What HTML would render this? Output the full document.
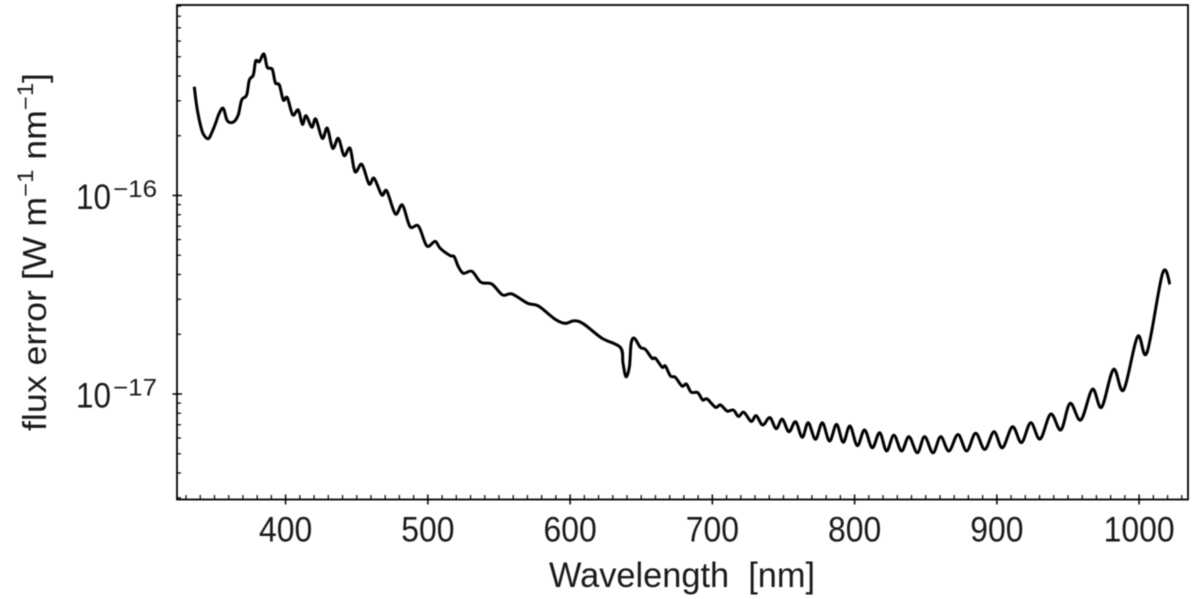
<!DOCTYPE html>
<html lang="en">
<head>
<meta charset="utf-8">
<title>Flux error vs wavelength</title>
<style>
html,body{margin:0;padding:0;background:#fff;}
svg{display:block;filter:blur(0.45px);}
text{font-family:"Liberation Sans",sans-serif;fill:#1a1a1a;}
</style>
</head>
<body>
<svg id="chart" xmlns="http://www.w3.org/2000/svg" width="1200" height="599" viewBox="0 0 1200 599">
  <rect x="0" y="0" width="1200" height="599" fill="#fff"/>
  <g id="ticks"></g>
  <path id="series" fill="none" stroke="#000" stroke-width="3" stroke-linejoin="round" stroke-linecap="butt"/>
  <rect x="177" y="5" width="1011" height="494.5" fill="none" stroke="#000" stroke-width="1.8"/>
  <g id="labels"></g>
  <text x="549" y="587" font-size="35" textLength="266" lengthAdjust="spacingAndGlyphs" xml:space="preserve">Wavelength  [nm]</text>
  <text transform="translate(46,431) rotate(-90)" font-size="33" textLength="358" lengthAdjust="spacingAndGlyphs">flux error [W m<tspan font-size="22" dy="-13">−1</tspan><tspan dy="13"> nm</tspan><tspan font-size="22" dy="-13">−1</tspan><tspan dy="13">]</tspan></text>
</svg>
<script>
var wavelengths = [335.8,337.4,339.8,342.1,345.6,348.0,350.8,353.3,356.2,359.0,363.2,366.7,369.1,372.6,374.5,377.3,379.0,381.5,384.8,387.1,390.6,392.8,395.6,398.4,401.2,405.0,408.9,411.8,414.4,418.4,421.2,425.8,429.3,433.1,437.1,441.1,445.3,448.8,453.6,458.7,462.2,467.6,471.1,477.2,482.1,487.5,493.4,499.3,505.1,508.7,515.7,518.5,521.5,525.0,531.0,537.3,545.0,552.5,559.1,570.1,577.8,589.6,596.6,603.0,609.5,622.4,635.3,637.2,639.3,641.7,642.9,645.2,649.4,652.9,657.6,660.0,664.7,667.0,670.5,674.0,678.7,681.8,685.1,689.7,693.2,696.3,702.2,705.7,710.4,714.8,718.4,722.1,727.3,730.8,735.4,740.4,744.9,749.1,753.8,758.5,763.2,767.4,772.5,777.3,782.4,787.3,792.0,796.7,801.9,807.0,812.4,817.6,822.5,827.6,833.0,838.2,844.1,849.2,855.1,860.5,866.3,872.7,878.8,885.1,891.5,898.0,903.9,911.0,917.3,923.8,930.4,937.9,945.0,951.5,959.0,967.2,973.6,982.0,989.1,998.9,1005.5,1016.5,1021.7];
var log10FluxError = [-15.452,-15.544,-15.635,-15.690,-15.714,-15.685,-15.636,-15.586,-15.561,-15.623,-15.630,-15.594,-15.519,-15.494,-15.418,-15.393,-15.322,-15.326,-15.287,-15.354,-15.364,-15.432,-15.443,-15.519,-15.507,-15.594,-15.569,-15.641,-15.598,-15.656,-15.615,-15.712,-15.661,-15.762,-15.712,-15.799,-15.762,-15.880,-15.843,-15.942,-15.913,-15.997,-15.977,-16.093,-16.048,-16.157,-16.154,-16.254,-16.231,-16.266,-16.303,-16.308,-16.359,-16.392,-16.382,-16.437,-16.446,-16.501,-16.496,-16.543,-16.557,-16.624,-16.644,-16.631,-16.647,-16.719,-16.765,-16.845,-16.913,-16.862,-16.745,-16.719,-16.765,-16.775,-16.820,-16.820,-16.865,-16.859,-16.909,-16.916,-16.960,-16.950,-16.991,-16.993,-17.030,-17.025,-17.067,-17.055,-17.086,-17.081,-17.113,-17.092,-17.138,-17.109,-17.156,-17.119,-17.175,-17.127,-17.190,-17.140,-17.218,-17.145,-17.228,-17.145,-17.237,-17.153,-17.243,-17.161,-17.260,-17.181,-17.271,-17.195,-17.287,-17.207,-17.287,-17.215,-17.296,-17.215,-17.296,-17.215,-17.287,-17.204,-17.287,-17.198,-17.279,-17.190,-17.271,-17.165,-17.245,-17.145,-17.227,-17.101,-17.181,-17.047,-17.131,-16.976,-17.067,-16.876,-16.980,-16.711,-16.792,-16.392,-16.447];
var xTickValues = [400,500,600,700,800,900,1000];
var xTickLabels = ["400","500","600","700","800","900","1000"];
var yTickExponents = [-16,-17];
var yTickLabels = ["−16","−17"];

var SVGNS = "http://www.w3.org/2000/svg";
function xScale(w){ return 285.6 + (w - 400) * 1.4225; }
function yScale(l){ return 394 - (l + 17) * 198.5; }

var ticksGroup = document.getElementById("ticks");
var labelsGroup = document.getElementById("labels");

function addTick(x1,y1,x2,y2,width,name){
  var t = document.createElementNS(SVGNS,"line");
  t.setAttribute("x1",x1); t.setAttribute("y1",y1);
  t.setAttribute("x2",x2); t.setAttribute("y2",y2);
  t.setAttribute("stroke","#000"); t.setAttribute("stroke-width",width);
  
  
  ticksGroup.appendChild(t);
}

var w, d, m;
for (w = 330; w <= 1030; w += 10) {
  if (w % 100 === 0) { addTick(xScale(w),494.5,xScale(w),504.5,1.5,"x-major-tick"); }
  else { addTick(xScale(w),495,xScale(w),499,1.2,"x-minor-tick"); }
}
for (d = -18; d <= -15; d++) {
  for (m = 1; m < 10; m++) {
    var ly = d + Math.log10(m);
    var py = yScale(ly);
    if (py < 6 || py > 498) continue;
    if (m === 1) { addTick(172.5,py,182,py,1.5,"y-major-tick"); }
    else { addTick(177,py,181,py,1.2,"y-minor-tick"); }
  }
}

xTickValues.forEach(function(v,i){
  var lab = document.createElementNS(SVGNS,"text");
  lab.setAttribute("x",xScale(v));
  lab.setAttribute("y",541.5);
  lab.setAttribute("font-size",35);
  lab.setAttribute("text-anchor","middle");
  lab.setAttribute("textLength",xTickLabels[i].length*17.75);
  lab.setAttribute("lengthAdjust","spacingAndGlyphs");
  
  
  lab.textContent = xTickLabels[i];
  labelsGroup.appendChild(lab);
});

yTickExponents.forEach(function(e,i){
  var by = yScale(e) + 13.5;
  var base = document.createElementNS(SVGNS,"text");
  base.setAttribute("x",76);
  base.setAttribute("y",by);
  base.setAttribute("font-size",35);
  base.setAttribute("textLength",35);
  base.setAttribute("lengthAdjust","spacingAndGlyphs");
  
  
  base.textContent = "10";
  labelsGroup.appendChild(base);
  var exp = document.createElementNS(SVGNS,"text");
  exp.setAttribute("x",113);
  exp.setAttribute("y",by - 12);
  exp.setAttribute("font-size",24);
  exp.setAttribute("textLength",44);
  exp.setAttribute("lengthAdjust","spacingAndGlyphs");
  
  
  exp.textContent = yTickLabels[i];
  labelsGroup.appendChild(exp);
});

function linePath(){
  var pts = wavelengths.map(function(v,i){ return [xScale(v), yScale(log10FluxError[i])]; });
  var s = "M" + pts[0][0].toFixed(2) + " " + pts[0][1].toFixed(2);
  for (var i = 0; i < pts.length - 1; i++) {
    var p0 = pts[Math.max(i-1,0)], p1 = pts[i], p2 = pts[i+1], p3 = pts[Math.min(i+2,pts.length-1)];
    var c1x = p1[0] + (p2[0]-p0[0])/6, c1y = p1[1] + (p2[1]-p0[1])/6;
    var c2x = p2[0] - (p3[0]-p1[0])/6, c2y = p2[1] - (p3[1]-p1[1])/6;
    s += "C" + c1x.toFixed(2) + " " + c1y.toFixed(2) + " " + c2x.toFixed(2) + " " + c2y.toFixed(2) + " " + p2[0].toFixed(2) + " " + p2[1].toFixed(2);
  }
  return s;
}
document.getElementById("series").setAttribute("d", linePath());
</script>
</body>
</html>
